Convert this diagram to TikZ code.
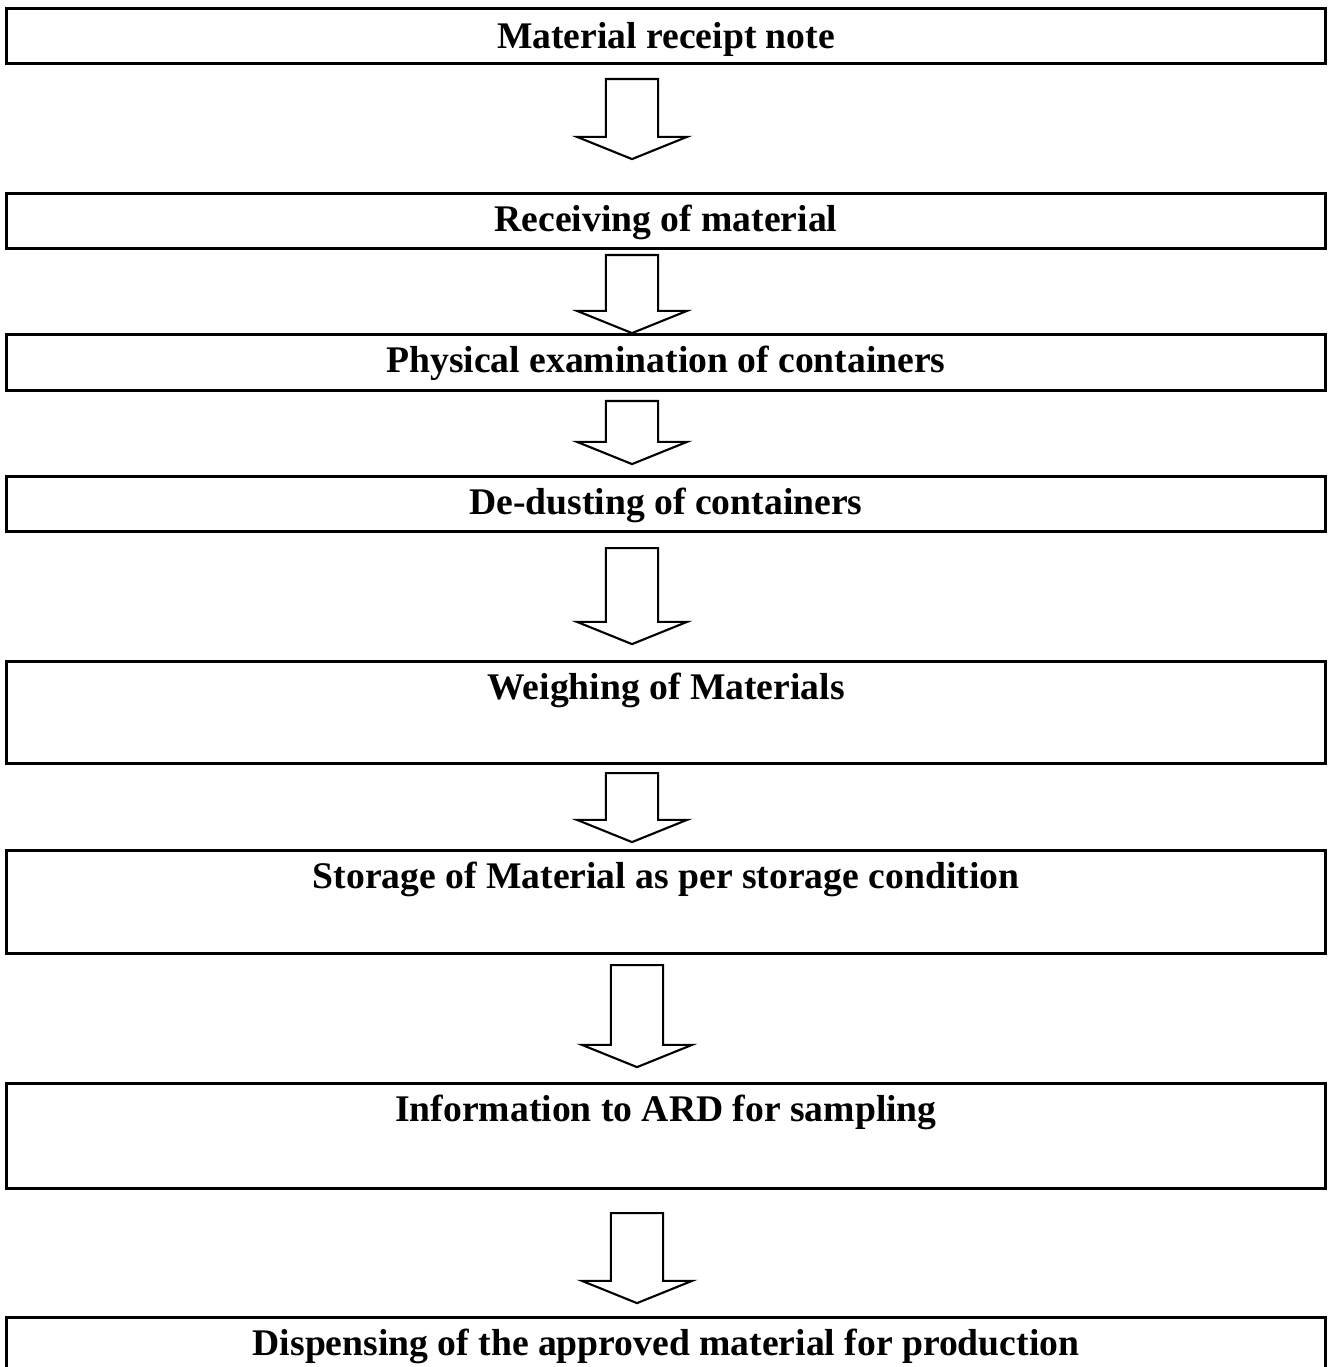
\documentclass[tikz,border=0pt]{standalone}
\usepackage{fontspec}
\setmainfont{Liberation Serif}
\usetikzlibrary{shapes.arrows}

\begin{document}
\begin{tikzpicture}[x=0.01cm, y=-0.01cm,
  stepbox/.style={draw, line width=0.85pt, anchor=north, inner sep=0pt,
    minimum width=13.18cm, text height=0.38cm, text depth=0.17cm,
    font=\fontsize{10.7}{12}\selectfont\bfseries},
  flowarrow/.style={draw, single arrow, shape border rotate=270, anchor=tail,
    line width=0.6pt, inner sep=0.25cm, minimum width=1.08cm,
    single arrow head extend=0.29cm, single arrow tip angle=136}]
  \useasboundingbox (0,0) rectangle (1332,1367);
  \clip (0,0) rectangle (1332,1367);

  \node[stepbox, text height=0.40cm, text depth=0.15cm] (note) at (666,7) {Material receipt note};
  \node[flowarrow, minimum height=0.80cm] (a1) at (632,78) {};

  \node[stepbox] (receive) at (666,192) {Receiving of material};
  \node[flowarrow, minimum height=0.78cm] (a2) at (632,254) {};

  \node[stepbox, text depth=0.18cm] (examine) at (666,333) {Physical examination of containers};
  \node[flowarrow, minimum height=0.63cm] (a3) at (632,400) {};

  \node[stepbox] (dedust) at (666,475) {De-dusting of containers};
  \node[flowarrow, minimum height=0.96cm] (a4) at (632,547) {};

  \node[stepbox, text depth=0.64cm] (weigh) at (666,660) {Weighing of Materials};
  \node[flowarrow, minimum height=0.69cm] (a5) at (632,772) {};

  \node[stepbox, text depth=0.65cm] (store) at (666,849) {Storage of Material as per storage condition};
  \node[flowarrow, minimum height=1.02cm] (a6) at (637,964) {};

  \node[stepbox, text depth=0.67cm] (inform) at (666,1082) {Information to ARD for sampling};
  \node[flowarrow, minimum height=0.90cm] (a7) at (637,1212) {};

  \node[stepbox, text depth=0.80cm] (dispense) at (666,1316) {Dispensing of the approved material for production};
\end{tikzpicture}
\end{document}
